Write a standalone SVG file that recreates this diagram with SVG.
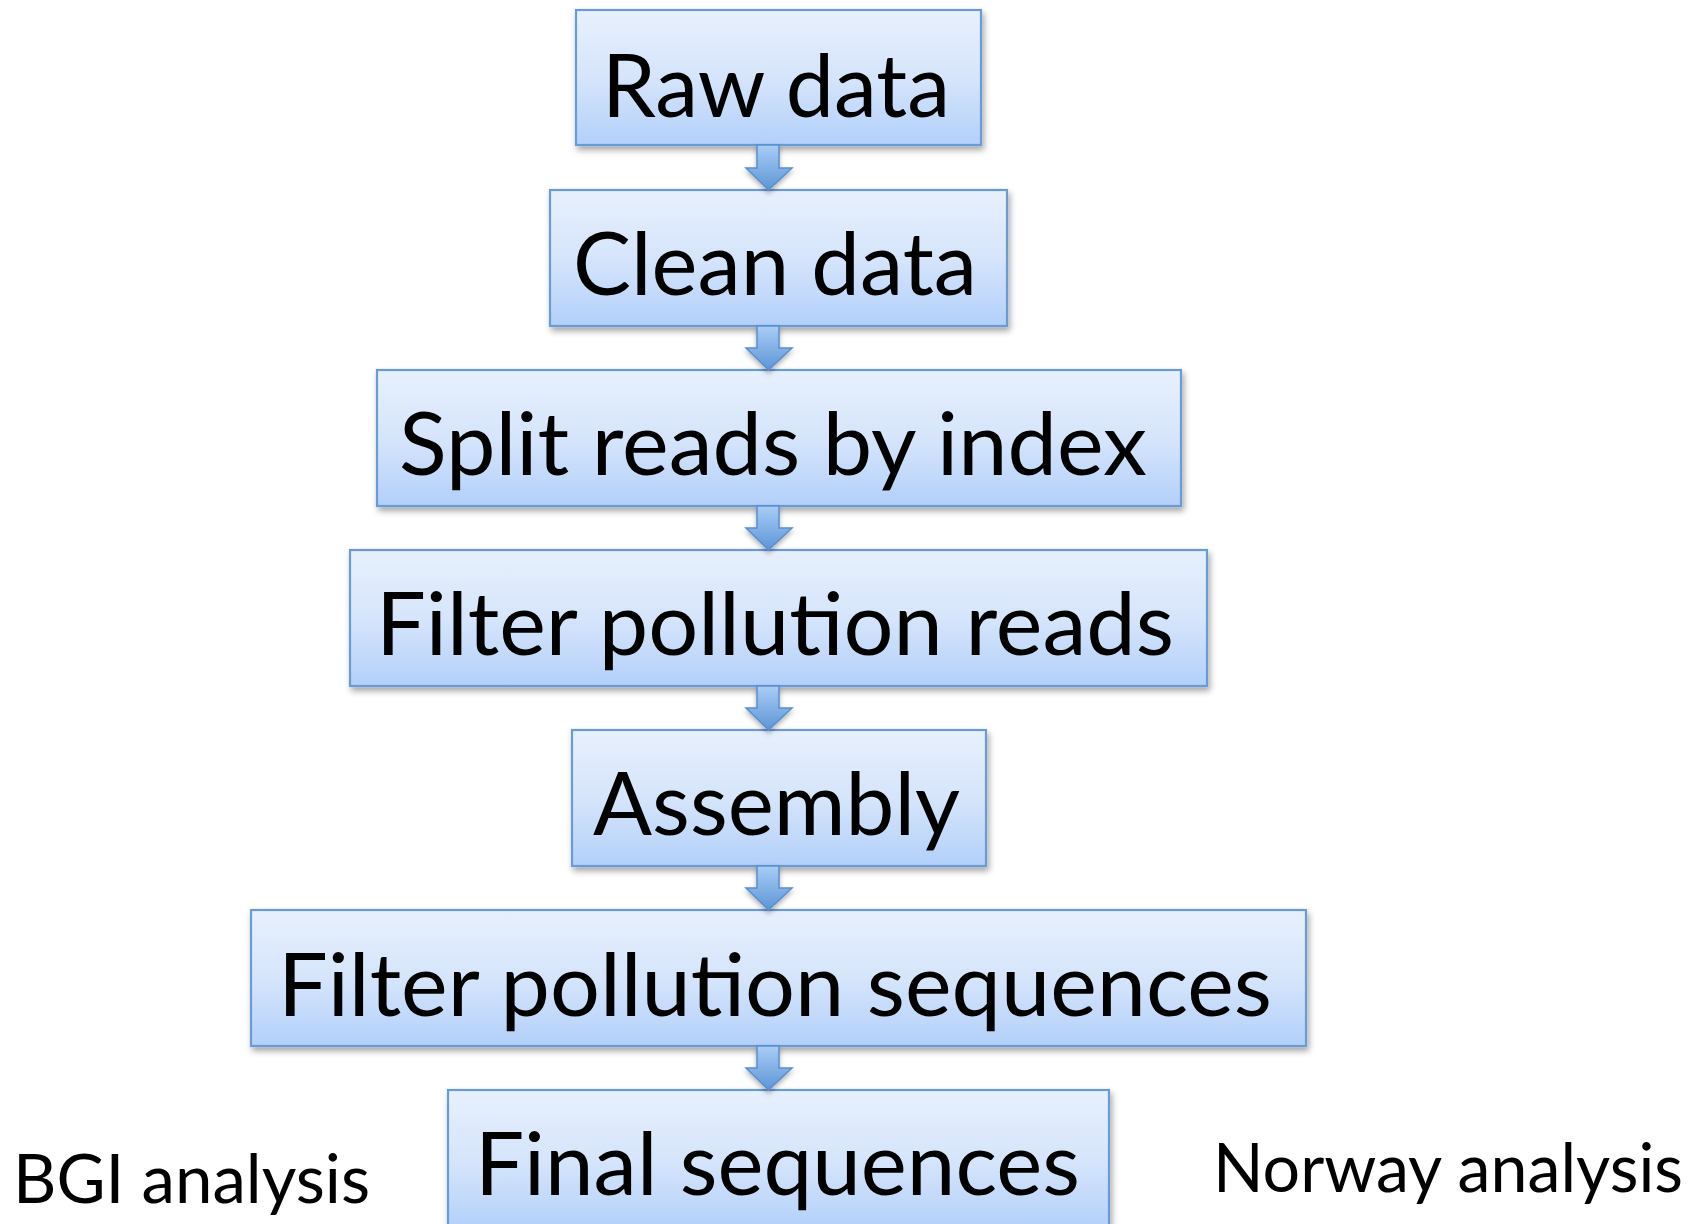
<svg xmlns="http://www.w3.org/2000/svg" width="1708" height="1224" viewBox="0 0 1708 1224">
<style>
.box{fill:url(#boxGrad);stroke:#6b9bd3;stroke-width:2.2;filter:url(#shadow)}
.lbl{font-family:Lato,"Open Sans","Liberation Sans",sans-serif;font-size:87px;fill:#000}
.side{font-family:Lato,"Open Sans","Liberation Sans",sans-serif;font-size:68px;fill:#000}
.arr{fill:url(#arrGrad);stroke:#5a8fcf;stroke-width:1.5;filter:url(#shadow2)}
</style>
<defs>
<linearGradient id="boxGrad" x1="0" y1="0" x2="0" y2="1">
<stop offset="0" stop-color="#e7f0fd"/>
<stop offset="0.5" stop-color="#d6e5fb"/>
<stop offset="1" stop-color="#b2d0fa"/>
</linearGradient>
<linearGradient id="arrGrad" x1="0" y1="0" x2="0" y2="1">
<stop offset="0" stop-color="#a9cdf6"/>
<stop offset="1" stop-color="#5d95d6"/>
</linearGradient>
<filter id="shadow" x="-5%" y="-10%" width="115%" height="130%">
<feDropShadow dx="2" dy="4" stdDeviation="3" flood-color="#000" flood-opacity="0.35"/>
</filter>
<filter id="shadow2" x="-30%" y="-30%" width="160%" height="160%">
<feDropShadow dx="0" dy="3" stdDeviation="2.5" flood-color="#000" flood-opacity="0.3"/>
</filter>
</defs>
<g id="node-raw">
<rect class="box" x="576" y="10" width="405" height="135"/>
<text class="lbl" x="602" y="117" textLength="348" lengthAdjust="spacingAndGlyphs">Raw data</text>
</g>
<g id="node-clean">
<rect class="box" x="550" y="190" width="457" height="136"/>
<text class="lbl" x="573" y="295" textLength="404" lengthAdjust="spacingAndGlyphs">Clean data</text>
</g>
<g id="node-split">
<rect class="box" x="377" y="370" width="804" height="136"/>
<text class="lbl" x="399" y="475" textLength="748" lengthAdjust="spacingAndGlyphs">Split reads by index</text>
</g>
<g id="node-filter-reads">
<rect class="box" x="350" y="550" width="857" height="136"/>
<text class="lbl" x="376" y="655" textLength="798" lengthAdjust="spacingAndGlyphs">Filter pollution reads</text>
</g>
<g id="node-assembly">
<rect class="box" x="572" y="730" width="414" height="136"/>
<text class="lbl" x="593" y="835" textLength="367" lengthAdjust="spacingAndGlyphs">Assembly</text>
</g>
<g id="node-filter-seqs">
<rect class="box" x="251" y="910" width="1055" height="136"/>
<text class="lbl" x="278" y="1016" textLength="994" lengthAdjust="spacingAndGlyphs">Filter pollution sequences</text>
</g>
<g id="node-final">
<rect class="box" x="448" y="1090" width="661" height="140"/>
<text class="lbl" x="475" y="1195" textLength="605" lengthAdjust="spacingAndGlyphs">Final sequences</text>
</g>
<g id="label-bgi">
<text class="side" x="13" y="1203" textLength="357" lengthAdjust="spacingAndGlyphs">BGI analysis</text>
</g>
<g id="label-norway">
<text class="side" x="1213" y="1192" textLength="470" lengthAdjust="spacingAndGlyphs">Norway analysis</text>
</g>
<g id="connectors">
<path class="arr" d="M757,145 H779 V168 H792 L768.5,190 L746,168 H757 Z"/>
<path class="arr" d="M757,326 H779 V348 H792 L768.5,370 L746,348 H757 Z"/>
<path class="arr" d="M757,506 H779 V528 H792 L768.5,550 L746,528 H757 Z"/>
<path class="arr" d="M757,686 H779 V708 H792 L768.5,730 L746,708 H757 Z"/>
<path class="arr" d="M757,866 H779 V888 H792 L768.5,910 L746,888 H757 Z"/>
<path class="arr" d="M757,1046 H779 V1068 H792 L768.5,1090 L746,1068 H757 Z"/>
</g>
</svg>
